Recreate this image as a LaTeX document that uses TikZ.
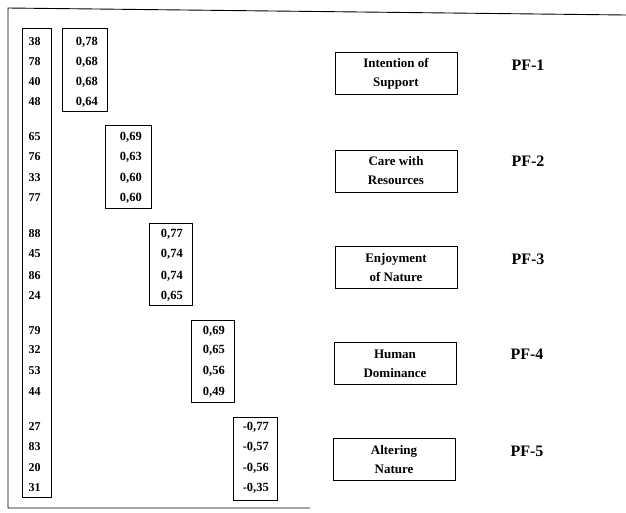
\documentclass[tikz,border=0pt]{standalone}
\usepackage{fontspec}
\setmainfont{Liberation Serif}
\begin{document}
\begin{tikzpicture}[x=1pt,y=-1pt,
  frame/.style={draw=black,line width=0.9pt},
  numbox/.style={draw=black,line width=0.8pt,inner sep=0,anchor=north west},
  itemnum/.style={font=\fontsize{12}{14}\selectfont\bfseries,inner sep=0,anchor=center},
  loadnum/.style={font=\fontsize{12.5}{14}\selectfont\bfseries,inner sep=0,anchor=east},
  factorbox/.style={draw=black,line width=0.8pt,minimum width=122pt,minimum height=42pt,inner sep=0,align=center,
    font=\fontsize{13}{19}\selectfont\bfseries},
  pflabel/.style={font=\fontsize{16}{18}\selectfont\bfseries,inner sep=0}
]
\useasboundingbox (0,0) rectangle (626,512);
% outer frame (top, left, bottom)
\coordinate (ftr) at (626,15);
\coordinate (ftl) at (8,8);
\coordinate (fbl) at (8,508);
\coordinate (fbr) at (310,508);
\draw[frame] (ftr) -- (ftl) -- (fbl) -- (fbr);

% item column box
\node[numbox,minimum width=29pt,minimum height=469pt] (itembox) at (22,28) {};
% loading boxes
\node[numbox,minimum width=45pt,minimum height=83pt] (lb1) at (62,28) {};
\node[numbox,minimum width=46pt,minimum height=83pt] (lb2) at (105,125) {};
\node[numbox,minimum width=43pt,minimum height=82pt] (lb3) at (149,223) {};
\node[numbox,minimum width=43pt,minimum height=82pt] (lb4) at (191,320) {};
\node[numbox,minimum width=44pt,minimum height=83pt] (lb5) at (233,417) {};

% item numbers
\node[itemnum] (i1) at (34.5,42) {38};
\node[itemnum] (i2) at (34.5,62) {78};
\node[itemnum] (i3) at (34.5,82) {40};
\node[itemnum] (i4) at (34.5,102) {48};
\node[itemnum] (i5) at (34.5,137) {65};
\node[itemnum] (i6) at (34.5,157) {76};
\node[itemnum] (i7) at (34.5,178) {33};
\node[itemnum] (i8) at (34.5,198) {77};
\node[itemnum] (i9) at (34.5,234) {88};
\node[itemnum] (i10) at (34.5,254) {45};
\node[itemnum] (i11) at (34.5,276) {86};
\node[itemnum] (i12) at (34.5,296) {24};
\node[itemnum] (i13) at (34.5,331) {79};
\node[itemnum] (i14) at (34.5,350) {32};
\node[itemnum] (i15) at (34.5,371) {53};
\node[itemnum] (i16) at (34.5,392) {44};
\node[itemnum] (i17) at (34.5,427) {27};
\node[itemnum] (i18) at (34.5,447) {83};
\node[itemnum] (i19) at (34.5,468) {20};
\node[itemnum] (i20) at (34.5,488) {31};

% loadings
\node[loadnum] (l1) at (98,42) {0,78};
\node[loadnum] (l2) at (98,62) {0,68};
\node[loadnum] (l3) at (98,82) {0,68};
\node[loadnum] (l4) at (98,102) {0,64};
\node[loadnum] (l5) at (142,137) {0,69};
\node[loadnum] (l6) at (142,157) {0,63};
\node[loadnum] (l7) at (142,178) {0,60};
\node[loadnum] (l8) at (142,198) {0,60};
\node[loadnum] (l9) at (183,234) {0,77};
\node[loadnum] (l10) at (183,254) {0,74};
\node[loadnum] (l11) at (183,276) {0,74};
\node[loadnum] (l12) at (183,296) {0,65};
\node[loadnum] (l13) at (225,331) {0,69};
\node[loadnum] (l14) at (225,350) {0,65};
\node[loadnum] (l15) at (225,371) {0,56};
\node[loadnum] (l16) at (225,392) {0,49};
\node[loadnum] (l17) at (269,427) {-0,77};
\node[loadnum] (l18) at (269,447) {-0,57};
\node[loadnum] (l19) at (269,468) {-0,56};
\node[loadnum] (l20) at (269,488) {-0,35};

% factor boxes
\node[factorbox] (f1) at (396,73.5) {Intention of\\Support};
\node[factorbox] (f2) at (396,171) {Care with\\Resources};
\node[factorbox] (f3) at (396,267.5) {Enjoyment\\of Nature};
\node[factorbox] (f4) at (395,363.5) {Human\\Dominance};
\node[factorbox] (f5) at (394,459.5) {Altering\\Nature};

% factor labels
\node[pflabel] (p1) at (528,65) {PF-1};
\node[pflabel] (p2) at (528,161) {PF-2};
\node[pflabel] (p3) at (528,259) {PF-3};
\node[pflabel] (p4) at (527,354) {PF-4};
\node[pflabel] (p5) at (527,451) {PF-5};
\end{tikzpicture}
\end{document}
